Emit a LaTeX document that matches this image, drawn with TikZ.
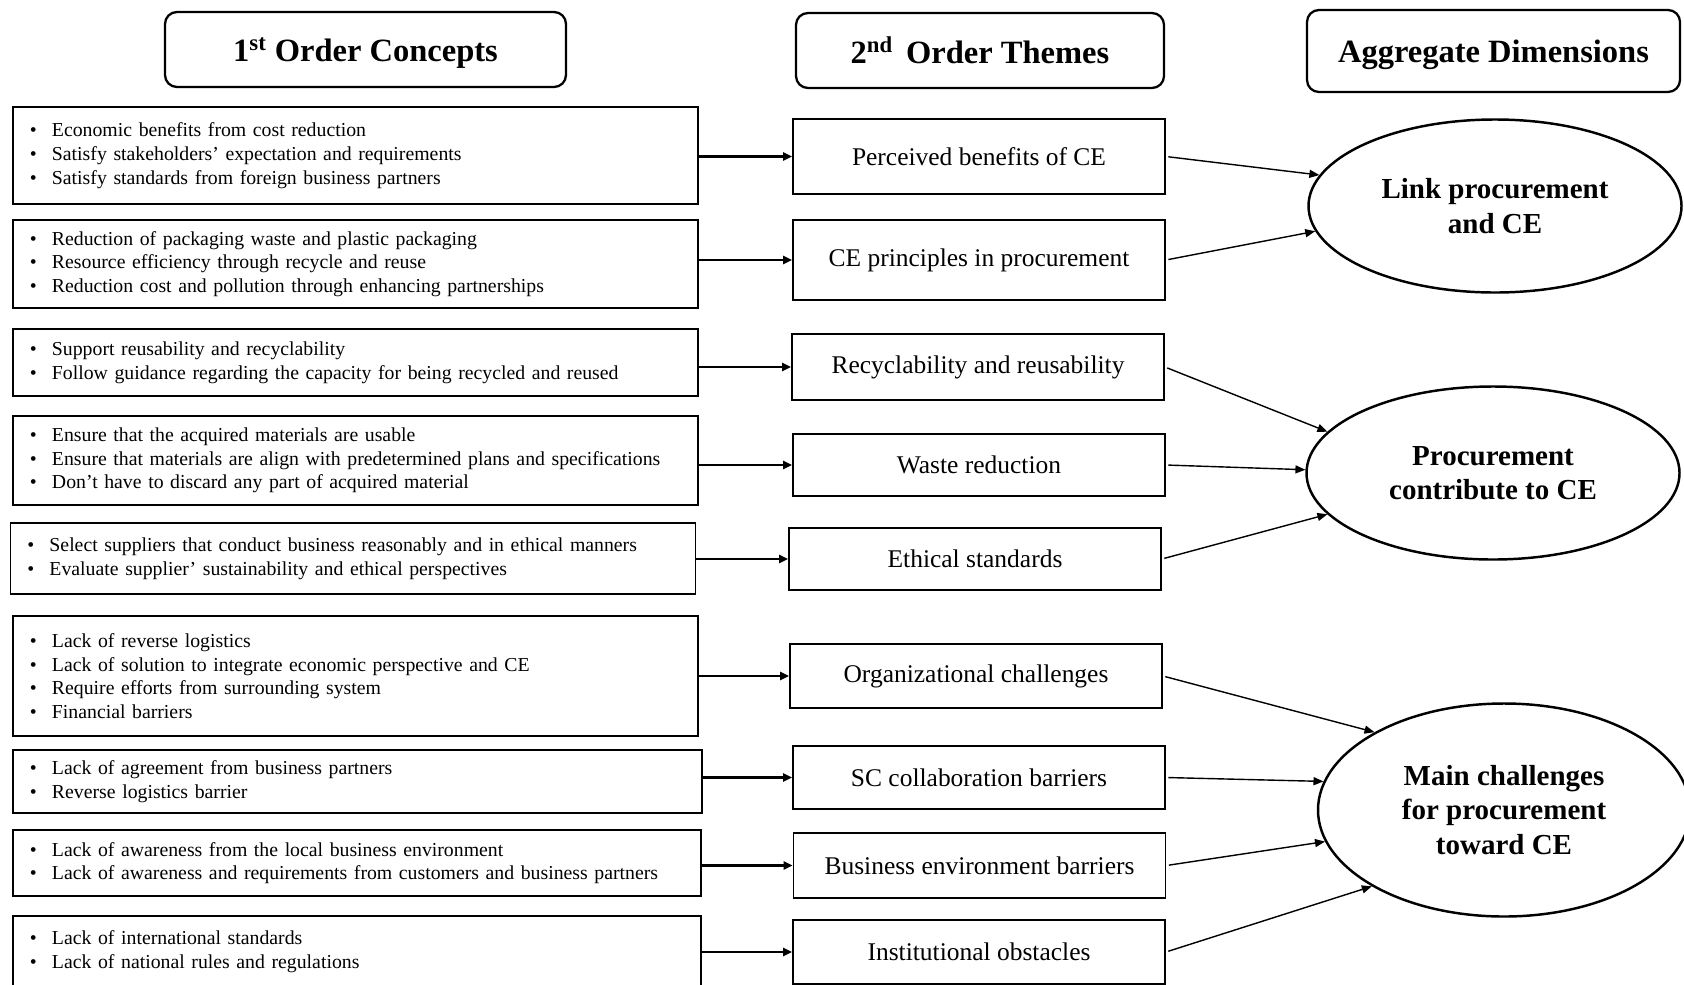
\documentclass[tikz,border=0pt]{standalone}
\usepackage{fontspec}
\setmainfont{Liberation Serif}
\usetikzlibrary{arrows.meta,shapes.geometric}

\tikzset{
headbox/.style={draw,rounded corners=2.4mm,line width=1.3pt,minimum height=15mm,text depth=0pt,font=\fontsize{18.5}{22}\selectfont\bfseries},
conceptbox/.style={draw,line width=1pt,minimum width=137mm,text width=130.2mm,inner xsep=3.4mm,align=left,font=\fontsize{11.25}{13.5}\selectfont},
themebox/.style={draw,line width=1pt,minimum width=74.4mm,font=\fontsize{14.5}{17}\selectfont},
dimension/.style={draw,ellipse,line width=1.4pt,inner sep=0pt,minimum width=74.6mm,minimum height=34.6mm,align=center,font=\fontsize{16.5}{19.5}\selectfont\bfseries},
feed/.style={line width=1.5pt,-{Triangle[length=1.8mm,width=1.6mm]}},
link/.style={line width=0.8pt,shorten <=0.5mm,-{Triangle[length=2mm,width=1.6mm]}}
}
\newcommand{\blt}{\makebox[4.4mm][l]{\textbullet}}

\begin{document}
\begin{tikzpicture}[x=0.2mm,y=-0.2mm]
\useasboundingbox (0,0) rectangle (1684,984);
\clip (0,0) rectangle (1684,984);

%headers
\node[headbox,minimum width=80.2mm] (h1) at (365.5,49.5) {1\textsuperscript{st} Order Concepts};
\node[headbox,minimum width=73.6mm] (h2) at (980,50.5) {2\textsuperscript{nd}\hspace{0.15em} Order Themes};
\node[headbox,minimum width=74.6mm,minimum height=16.4mm] (h3) at (1493.5,51) {Aggregate Dimensions};

%1st order concepts
\node[conceptbox,minimum height=19.4mm] (c1) at (355.5,155.5) {\blt Economic benefits from cost reduction\\ \blt Satisfy stakeholders' expectation and requirements\\ \blt Satisfy standards from foreign business partners};
\node[conceptbox,minimum height=17.6mm] (c2) at (355.5,264) {\blt Reduction of packaging waste and plastic packaging\\ \blt Resource efficiency through recycle and reuse\\ \blt Reduction cost and pollution through enhancing partnerships};
\node[conceptbox,minimum height=13.4mm] (c3) at (355.5,362.5) {\blt Support reusability and recyclability\\ \blt Follow guidance regarding the capacity for being recycled and reused};
\node[conceptbox,minimum height=17.8mm] (c4) at (355.5,460.5) {\blt Ensure that the acquired materials are usable\\ \blt Ensure that materials are align with predetermined plans and specifications\\ \blt Don't have to discard any part of acquired material};
\node[conceptbox,minimum height=14.2mm] (c5) at (353,558.5) {\blt Select suppliers that conduct business reasonably and in ethical manners\\ \blt Evaluate supplier' sustainability and ethical perspectives};
\node[conceptbox,minimum height=24mm] (c6) at (355.5,676) {\blt Lack of reverse logistics\\ \blt Lack of solution to integrate economic perspective and CE\\ \blt Require efforts from surrounding system\\ \blt Financial barriers};
\node[conceptbox,minimum width=137.8mm,text width=131mm,minimum height=12.6mm] (c7) at (357.5,781.5) {\blt Lack of agreement from business partners\\ \blt Reverse logistics barrier};
\node[conceptbox,minimum width=137.6mm,text width=130.8mm,minimum height=13.2mm] (c8) at (357,863) {\blt Lack of awareness from the local business environment\\ \blt Lack of awareness and requirements from customers and business partners};
\node[conceptbox,minimum width=137.6mm,text width=130.8mm,minimum height=14.2mm] (c9) at (357,951.5) {\blt Lack of international standards\\ \blt Lack of national rules and regulations};

%2nd order themes
\node[themebox,minimum height=15mm] (t1) at (979,156.5) {Perceived benefits of CE};
\node[themebox,minimum height=16mm] (t2) at (979,260) {CE principles in procurement};
\node[themebox,minimum height=13.2mm] (t3) at (978,367) {Recyclability and reusability};
\node[themebox,minimum height=12.4mm] (t4) at (979,465) {Waste reduction};
\node[themebox,minimum height=12.4mm] (t5) at (975,559) {Ethical standards};
\node[themebox,minimum height=12.8mm] (t6) at (976,676) {Organizational challenges};
\node[themebox,minimum height=12.6mm] (t7) at (979,777.5) {SC collaboration barriers};
\node[themebox,minimum height=13mm] (t8) at (979.5,865.5) {Business environment barriers};
\node[themebox,minimum height=12.8mm] (t9) at (979,952) {Institutional obstacles};

%aggregate dimensions
\node[dimension] (d1) at (1495,206) {Link procurement\\and CE};
\node[dimension] (d2) at (1493,473) {Procurement\\contribute to CE};
\node[dimension,minimum width=74.4mm,minimum height=42.6mm] (d3) at (1504,810) {Main challenges\\for procurement\\toward CE};

%concepts to themes
\draw[feed] (c1.east |- t1.west) -- (t1.west);
\draw[feed] (c2.east |- t2.west) -- (t2.west);
\draw[feed] (c3.east |- t3.west) -- (t3.west);
\draw[feed] (c4.east |- t4.west) -- (t4.west);
\draw[feed] (c5.east |- t5.west) -- (t5.west);
\draw[feed] (c6.east |- t6.west) -- (t6.west);
\draw[feed] (c7.east |- t7.west) -- (t7.west);
\draw[feed] (c8.east |- t8.west) -- (t8.west);
\draw[feed] (c9.east |- t9.west) -- (t9.west);

%themes to dimensions
\draw[link] (t1.east) -- (d1.170);
\draw[link] (t2.east) -- (d1.188);
\draw[link] (t3.east) -- (d2.166);
\draw[link] (t4.east) -- (d2.179);
\draw[link] (t5.east) -- (d2.194);
\draw[link] (t6.east) -- (d3.149);
\draw[link] (t7.east) -- (d3.171);
\draw[link] (t8.east) -- (d3.190);
\draw[link] (t9.east) -- (d3.210);

\end{tikzpicture}
\end{document}
